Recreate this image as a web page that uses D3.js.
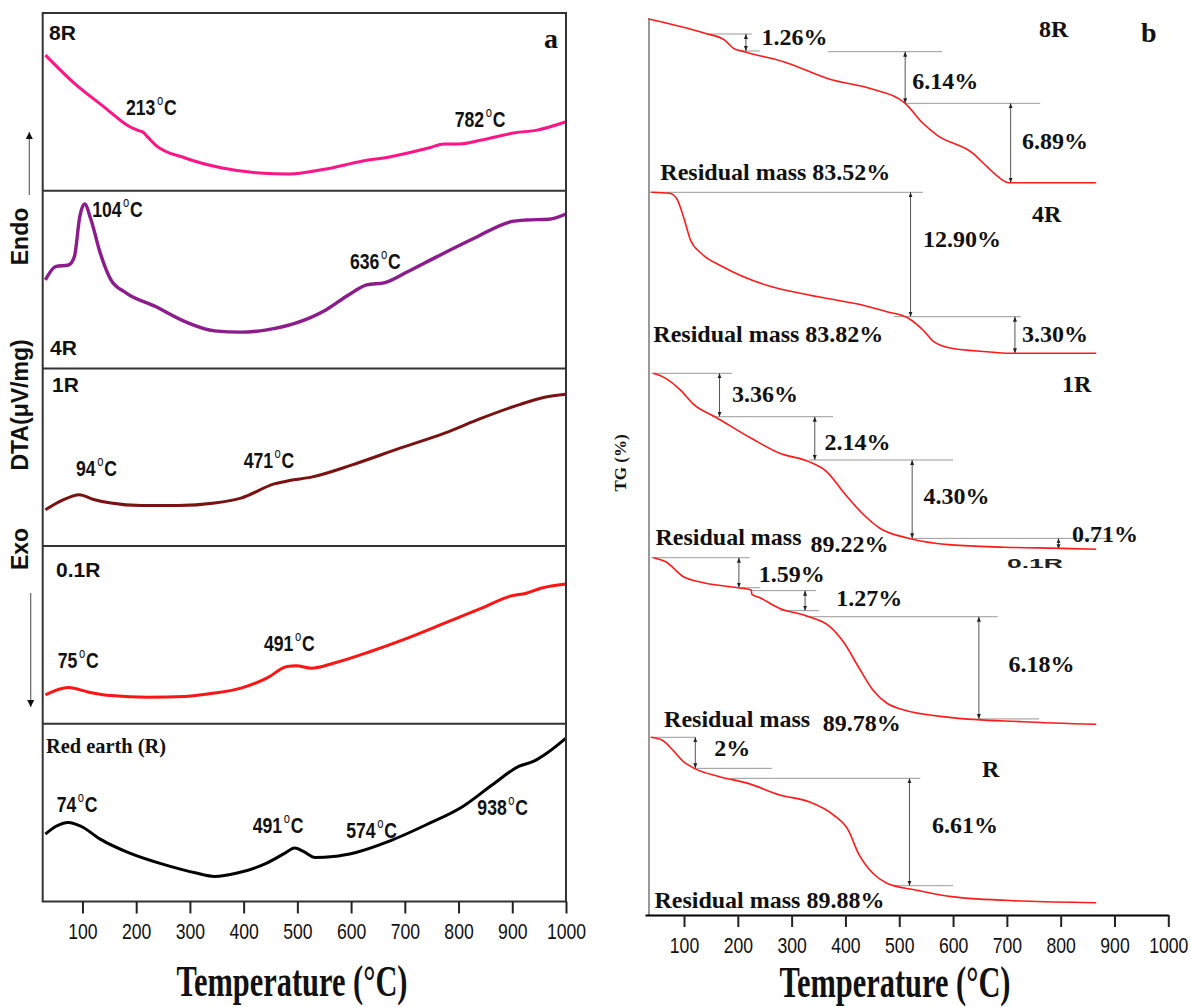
<!DOCTYPE html>
<html>
<head>
<script src="https://d3js.org/d3.v7.min.js"></script>
<style>
  body { margin: 0; background: #fff; }
  svg { display: block; }
</style>
</head>
<body>
<svg width="1190" height="1007"></svg>
<script>
// ---------- (a) DTA curves: [temperature °C, relative signal 0-100 inside its strip] ----------
const dta8R = [[31,76.3],[85,60.4],[140,47.2],[188,36.0],[205,33.8],[213,32.9],[222,30.0],[236,25.7],[291,18.4],[360,12.8],[429,10.0],[485,9.4],[553,12.2],[622,16.7],[671,19.0],[746,24.2],[773,26.3],[801,26.3],[843,28.5],[905,32.6],[946,34.1],[1000,38.8]];
const dta4R = [[31,49.8],[50,57.3],[74,58.2],[85,62.9],[95,85.4],[104,92.5],[116,83.5],[133,65.0],[153,49.8],[181,42.5],[236,34.8],[291,26.3],[346,21.1],[395,20.4],[443,21.7],[498,25.6],[553,32.9],[595,41.3],[629,47.0],[663,48.3],[705,54.4],[760,62.9],[829,73.2],[898,82.6],[926,83.5],[967,83.9],[1000,86.9]];
const dta1R = [[31,20.4],[64,26.0],[94,28.9],[119,26.4],[153,24.2],[209,22.8],[278,22.8],[346,24.2],[395,27.0],[457,35.0],[485,36.9],[526,38.8],[602,45.7],[691,55.1],[774,63.6],[843,72.0],[912,79.5],[960,83.8],[1000,85.5]];
const dta01R = [[31,16.3],[74,20.4],[112,17.8],[153,15.9],[222,15.0],[291,15.4],[346,17.3],[395,20.1],[443,25.7],[481,32.2],[498,32.6],[526,31.3],[567,34.1],[636,40.7],[705,48.2],[774,56.6],[843,65.1],[898,72.0],[926,73.5],[953,76.3],[1000,78.7]];
const dtaR = [[31,37.9],[50,42.2],[74,44.5],[98,42.2],[133,35.1],[188,27.2],[257,20.3],[312,16.0],[346,14.1],[388,16.0],[443,21.6],[477,27.2],[495,30.1],[512,28.1],[533,24.8],[567,25.3],[609,27.6],[670,33.8],[740,43.2],[808,53.5],[863,65.7],[912,76.0],[939,78.8],[960,82.6],[1000,92.0]];

// peak temperatures with label anchor [peak °C, label °C, relative signal]
const peaks8R = [[213,181,42.6],[782,793,35.7]];
const peaks4R = [[104,118,85.2],[636,598,56.0]];
const peaks1R = [[94,88,39.5],[471,400,43.9]];
const peaks01R = [[75,54,31.3],[491,438,40.7]];
const peaksR = [[74,52,50.6],[491,417,38.5],[574,591,35.7],[938,835,48.8]];

const dtaNames = ["8R", "4R", "1R", "0.1R", "Red earth (R)"];

// ---------- (b) TG curves: [temperature °C, mass %] ----------
const tg8R = [[34,100],[139,98.56],[175,97.89],[192,97.05],[212,96.71],[285,95.70],[371,93.93],[451,92.92],[511,91.51],[544,89.50],[570,88.32],[637,86.48],[663,85.13],[690,83.86],[703,83.52],[866,83.52]];
const tg4R = [[39,100],[73,99.90],[86,99.40],[99,97.55],[112,95.21],[132,93.87],[172,92.52],[252,90.68],[332,89.68],[431,88.67],[477,88.00],[517,87.34],[544,86.16],[564,84.99],[597,84.32],[663,83.98],[703,83.82],[866,83.82]];
const tg1R = [[43,100],[66,99.69],[93,98.98],[119,98.06],[159,97.31],[225,96.02],[278,95.10],[332,94.59],[365,93.98],[398,92.65],[431,91.43],[464,90.51],[517,89.90],[597,89.49],[697,89.35],[796,89.28],[866,89.22]];
const tg01R = [[43,100],[66,99.75],[99,98.83],[132,98.49],[199,98.16],[225,98.02],[226,97.75],[239,97.57],[278,96.89],[332,96.38],[371,95.77],[398,94.75],[424,93.31],[451,91.88],[477,91.07],[504,90.70],[597,90.19],[730,89.94],[866,89.78]];
const tgR = [[38,100],[59,99.83],[79,99.22],[99,98.51],[119,98.10],[166,97.59],[219,97.18],[278,96.47],[332,96.06],[378,95.24],[405,94.33],[424,92.90],[451,91.68],[477,91.07],[530,90.66],[597,90.25],[730,89.98],[866,89.88]];
const tgResidual = [83.52, 83.82, 89.22, 89.78, 89.88];

// guide lines [from °C, to °C, mass], arrows [°C, mass top, mass bottom], labels [text, °C, mass]
const guides8R = [[142,226,98.49],[207,241,96.78],[368,580,96.71],[511,762,91.51]];
const arrows8R = [[215,98.49,96.78],[511,96.71,91.51],[707,91.51,83.52]];
const labels8R = [["1.26%",244,97.38],["6.14%",524,92.92],["6.89%",728,86.91],["Residual mass 83.52%",56,83.79]];
const guides4R = [[35,544,100],[490,726,87.50]];
const arrows4R = [[521,100,87.50],[715,87.50,83.82]];
const labels4R = [["12.90%",544,94.53],["3.30%",728,84.99],["Residual mass 83.82%",43,84.99]];
const guides1R = [[39,189,100],[152,377,97.34],[332,600,94.69],[524,895,89.89]];
const arrows1R = [[166,100,97.34],[343,97.34,94.69],[524,94.69,89.89],[796,89.89,89.22]];
const labels1R = [["3.36%",189,98.26],["2.14%",361,95.30],["4.30%",545,91.99],["0.71%",821,89.68],["Residual mass",47,89.48],["89.22%",335,89.07]];
const guides01R = [[39,222,100],[202,242,98.16],[225,345,97.98],[278,351,96.75],[325,683,96.38],[648,760,90.11]];
const arrows01R = [[202,100,98.16],[325,97.98,96.75],[648,96.38,90.11]];
const labels01R = [["1.59%",239,98.53],["1.27%",383,97.04],["6.18%",703,93.01],["Residual mass",63,89.61],["89.78%",358,89.37]];
const guidesR = [[39,122,100],[120,263,98.10],[186,539,97.49],[490,600,90.92]];
const arrowsR = [[121,100,98.10],[519,97.49,90.92]];
const labelsR = [["2%",156,98.86],["6.61%",561,94.13],["Residual mass 89.88%",45,89.58]];

const tickTemps = [100, 200, 300, 400, 500, 600, 700, 800, 900, 1000];

const svg = d3.select("svg");
const sans = "'Liberation Sans', Arial, sans-serif";
const serif = "'Liberation Serif', 'Times New Roman', serif";

// markers
const defs = svg.append("defs");
defs.append("marker").attr("id", "head").attr("viewBox", "0 0 10 10")
  .attr("refX", 10).attr("refY", 5).attr("markerWidth", 5).attr("markerHeight", 5)
  .attr("markerUnits", "userSpaceOnUse").attr("orient", "auto-start-reverse")
  .append("path").attr("d", "M0,1 L10,5 L0,9 Z").attr("fill", "#222");
defs.append("marker").attr("id", "bigHead").attr("viewBox", "0 0 10 10")
  .attr("refX", 10).attr("refY", 5).attr("markerWidth", 12).attr("markerHeight", 7)
  .attr("markerUnits", "userSpaceOnUse").attr("orient", "auto")
  .append("path").attr("d", "M0,0 L10,5 L0,10 Z").attr("fill", "#111");

// =================== panel a ===================
const aLeft = 42.7, aRight = 566, aTop = 13, stripH = 177.7;
const xA = d3.scaleLinear().domain([26, 1000]).range([aLeft, aRight]);
const dtaSeries = [dta8R, dta4R, dta1R, dta01R, dtaR];
const dtaPeaks = [peaks8R, peaks4R, peaks1R, peaks01R, peaksR];
const dtaColors = ["#ff1585", "#8c1c8c", "#7a1212", "#ff1414", "#000000"];

const gA = svg.append("g");

function peakLabel(g, x, y, value) {
  const t = g.append("text")
    .attr("transform", `translate(${x},${y}) scale(0.8,1)`)
    .attr("font-family", sans).attr("font-weight", "bold").attr("font-size", 22).attr("fill", "#111");
  t.append("tspan").text(value);
  t.append("tspan").attr("font-size", 14).attr("font-weight", "normal").attr("dx", 2).attr("dy", -10).text("o");
  t.append("tspan").attr("dy", 10).attr("dx", 1).text("C");
}

dtaSeries.forEach((data, i) => {
  const y = d3.scaleLinear().domain([0, 100])
    .range([aTop + (i + 1) * stripH, aTop + i * stripH]);
  const line = d3.line().x(d => xA(d[0])).y(d => y(d[1])).curve(d3.curveMonotoneX);
  gA.append("path").datum(data).attr("d", line)
    .attr("fill", "none").attr("stroke", dtaColors[i])
    .attr("stroke-width", i === 1 ? 3.4 : 3).attr("stroke-linejoin", "round");
  dtaPeaks[i].forEach(p => peakLabel(gA, xA(p[1]), y(p[2]), p[0]));
  if (i > 0) {
    gA.append("line").attr("x1", aLeft).attr("x2", aRight)
      .attr("y1", aTop + i * stripH).attr("y2", aTop + i * stripH)
      .attr("stroke", "#333").attr("stroke-width", 2);
  }
});
gA.append("rect").attr("x", aLeft).attr("y", aTop)
  .attr("width", aRight - aLeft).attr("height", 5 * stripH)
  .attr("fill", "none").attr("stroke", "#333").attr("stroke-width", 2);

// strip names
const stripNamePos = [[49, 39.5], [50, 355], [52, 392], [56, 577], [46, 753]];
dtaNames.forEach((n, i) => {
  const isR = i === 4;
  gA.append("text").attr("x", stripNamePos[i][0]).attr("y", stripNamePos[i][1])
    .attr("font-family", isR ? serif : sans).attr("font-weight", "bold")
    .attr("font-size", isR ? 22 : 21).attr("fill", "#111")
    .attr("textLength", isR ? 120 : null)
    .attr("lengthAdjust", "spacingAndGlyphs")
    .text(n);
});
gA.append("text").attr("x", 544).attr("y", 48).attr("font-family", serif)
  .attr("font-weight", "bold").attr("font-size", 28).attr("fill", "#111").text("a");

// y label with Endo/Exo arrows
const yLab = [["Endo", 236.5], ["DTA(\u03bcV/mg)", 405], ["Exo", 549]];
yLab.forEach(d => {
  gA.append("text").attr("transform", `translate(28,${d[1]}) rotate(-90)`)
    .attr("text-anchor", "middle").attr("font-family", sans)
    .attr("font-weight", "bold").attr("font-size", 23).attr("fill", "#111").text(d[0]);
});
gA.append("line").attr("x1", 29.3).attr("x2", 29.3).attr("y1", 195).attr("y2", 132)
  .attr("stroke", "#666").attr("stroke-width", 1.2).attr("marker-end", "url(#bigHead)");
gA.append("line").attr("x1", 30.7).attr("x2", 30.7).attr("y1", 593).attr("y2", 707)
  .attr("stroke", "#666").attr("stroke-width", 1.2).attr("marker-end", "url(#bigHead)");

// x axis a
const axA = gA.append("g").attr("transform", `translate(0,${aTop + 5 * stripH})`)
  .call(d3.axisBottom(xA).tickValues(tickTemps).tickFormat(d3.format("d"))
    .tickSize(12).tickSizeOuter(0).tickPadding(10));
axA.select(".domain").remove();

// =================== panel b ===================
const xB = d3.scaleLinear().domain([27.5, 1000]).range([645, 1168.3]);
const bAxisY = 915;
const tgBands = [[19, 182.7], [192.3, 353.3], [373.3, 549.3], [557.7, 724.3], [737.3, 902.7]];
const tgSeries = [tg8R, tg4R, tg1R, tg01R, tgR];
const tgGuides = [guides8R, guides4R, guides1R, guides01R, guidesR];
const tgArrows = [arrows8R, arrows4R, arrows1R, arrows01R, arrowsR];
const tgLabels = [labels8R, labels4R, labels1R, labels01R, labelsR];

const gB = svg.append("g");
gB.append("line").attr("x1", 649).attr("x2", 649).attr("y1", 18).attr("y2", bAxisY)
  .attr("stroke", "#777").attr("stroke-width", 1.5);

tgSeries.forEach((data, i) => {
  const y = d3.scaleLinear().domain([100, tgResidual[i]]).range(tgBands[i]);
  tgGuides[i].forEach(d => {
    gB.append("line").attr("x1", xB(d[0])).attr("x2", xB(d[1]))
      .attr("y1", y(d[2])).attr("y2", y(d[2]))
      .attr("stroke", "#999").attr("stroke-width", 1);
  });
  tgArrows[i].forEach(d => {
    gB.append("line").attr("x1", xB(d[0])).attr("x2", xB(d[0]))
      .attr("y1", y(d[1])).attr("y2", y(d[2]))
      .attr("stroke", "#555").attr("stroke-width", 1)
      .attr("marker-start", "url(#head)").attr("marker-end", "url(#head)");
  });
  const line = d3.line().x(d => xB(d[0])).y(d => y(d[1])).curve(d3.curveMonotoneX);
  gB.append("path").datum(data).attr("d", line)
    .attr("fill", "none").attr("stroke", "#ff1a1a").attr("stroke-width", 1.6);
  tgLabels[i].forEach(d => {
    gB.append("text").attr("x", xB(d[1])).attr("y", y(d[2]))
      .attr("font-family", serif).attr("font-weight", "bold")
      .attr("font-size", 24).attr("fill", "#111").text(d[0]);
  });
});

// sample names b
const bNames = [["8R", 1039, 36.7], ["4R", 1032, 221.7], ["1R", 1062, 391.7], ["R", 982, 776.7]];
bNames.forEach(d => {
  gB.append("text").attr("x", d[1]).attr("y", d[2]).attr("font-family", serif)
    .attr("font-weight", "bold").attr("font-size", 24).attr("fill", "#111").text(d[0]);
});
gB.append("text").attr("x", 1007).attr("y", 568).attr("font-family", sans)
  .attr("font-weight", "bold").attr("font-size", 12).attr("fill", "#222")
  .attr("textLength", 56).attr("lengthAdjust", "spacingAndGlyphs").text("0.1R");
gB.append("text").attr("x", 1141).attr("y", 42).attr("font-family", serif)
  .attr("font-weight", "bold").attr("font-size", 28).attr("fill", "#111").text("b");
gB.append("text").attr("transform", "translate(626,463) rotate(-90)")
  .attr("text-anchor", "middle").attr("font-family", serif)
  .attr("font-weight", "bold").attr("font-size", 17).attr("fill", "#111").text("TG (%)");

// x axis b
const axB = gB.append("g").attr("transform", `translate(0,${bAxisY})`)
  .call(d3.axisBottom(xB).tickValues(tickTemps).tickFormat(d3.format("d"))
    .tickSize(12).tickSizeOuter(0).tickPadding(10));
axB.select(".domain").attr("stroke-width", 2);

// shared axis styling
svg.selectAll(".tick line").attr("stroke", "#222").attr("stroke-width", 2);
svg.selectAll(".tick text").attr("font-family", sans).attr("font-size", 22)
  .attr("fill", "#111").attr("transform", "scale(0.8,1)");

// axis titles
[[292, 996], [895, 997]].forEach(p => {
  svg.append("text").attr("x", p[0]).attr("y", p[1]).attr("text-anchor", "middle")
    .attr("font-family", serif).attr("font-weight", "bold").attr("font-size", 45)
    .attr("fill", "#111").attr("textLength", 231).attr("lengthAdjust", "spacingAndGlyphs")
    .text("Temperature (\u00b0C)");
});
</script>
</body>
</html>
